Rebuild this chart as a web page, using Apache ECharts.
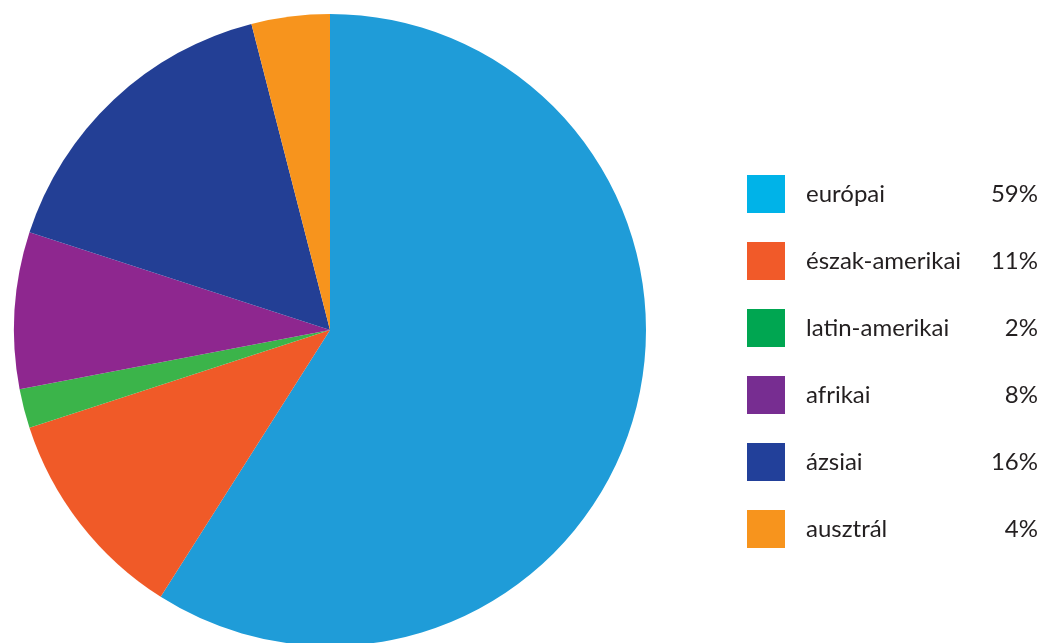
<!DOCTYPE html>
<html>
<head>
<meta charset="utf-8">
<script src="https://cdn.jsdelivr.net/npm/echarts@6/dist/echarts.min.js"></script>
<style>
  html, body { margin: 0; padding: 0; background: #fff; }
  #chart { width: 1045px; height: 643px; }
</style>
</head>
<body>
<div id="chart"></div>
<script>
// regions and their shares (%)
var categories = ['európai', 'észak-amerikai', 'latin-amerikai', 'afrikai', 'ázsiai', 'ausztrál'];
var shares = [59, 11, 2, 8, 16, 4];
// slice colours and the (slightly different) legend swatch colours
var sliceColors = ['#1f9cd8', '#f05a28', '#3bb44a', '#8e278f', '#233f95', '#f7941d'];
var legendColors = ['#00b3e8', '#f15a29', '#00a651', '#772d91', '#22409a', '#f7941d'];

var chart = echarts.init(document.getElementById('chart'));

chart.setOption({
    backgroundColor: '#fff',
    animation: false,
    legend: {
        orient: 'vertical',
        left: 747,
        top: 175,
        padding: 0,
        itemWidth: 38,
        itemHeight: 38,
        itemGap: 29,
        icon: 'rect',
        selectedMode: false,
        data: categories.map(function (c, i) {
            return { name: c, itemStyle: { color: legendColors[i] } };
        }),
        formatter: function (name) {
            var i = categories.indexOf(name);
            return '{n|' + name + '}{p|' + shares[i] + '%}';
        },
        textStyle: {
            fontFamily: 'Lato',
            fontSize: 24,
            color: '#231f20',
            rich: {
                n: { fontFamily: 'Lato', fontSize: 24, color: '#231f20', width: 160, padding: [0, 0, 0, 16] },
                p: { fontFamily: 'Lato', fontSize: 24, color: '#231f20', width: 72, align: 'right' }
            }
        }
    },
    series: [{
        type: 'pie',
        center: [330, 330],
        radius: 316,
        startAngle: 90,
        clockwise: true,
        label: { show: false },
        labelLine: { show: false },
        emphasis: { disabled: true },
        itemStyle: { borderWidth: 0 },
        data: categories.map(function (c, i) {
            return { name: c, value: shares[i], itemStyle: { color: sliceColors[i] } };
        })
    }]
});
</script>
</body>
</html>
